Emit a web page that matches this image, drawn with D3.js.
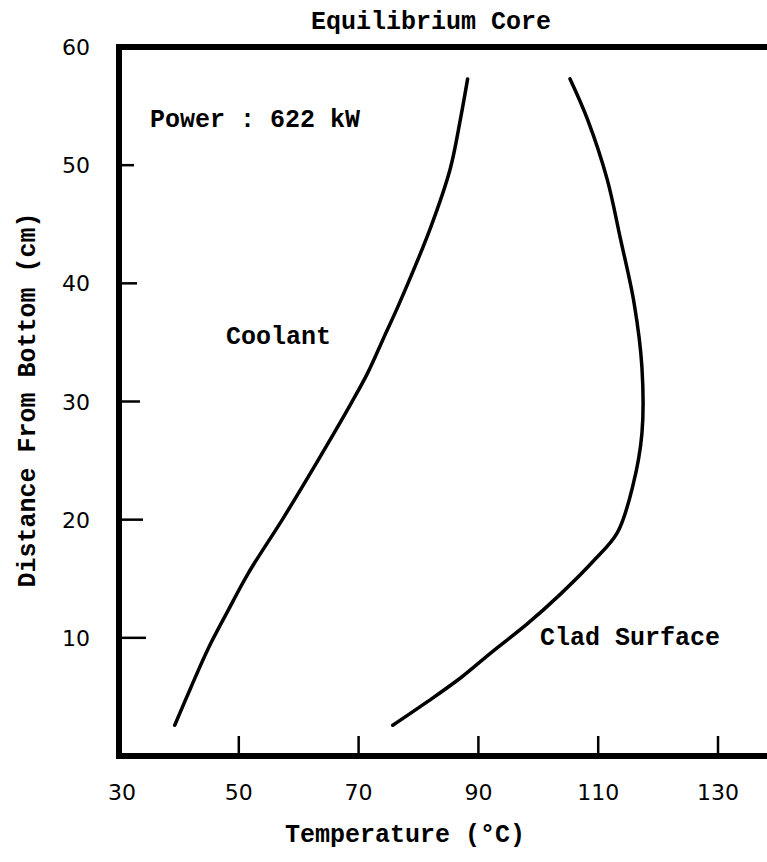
<!DOCTYPE html>
<html>
<head>
<meta charset="utf-8">
<script src="https://cdn.jsdelivr.net/npm/d3@7"></script>
<style>
  body { margin: 0; background: #fff; }
  svg text { fill: #000; }
  .mono { font-family: "Courier New", "Liberation Mono", monospace; font-size: 25px; font-weight: bold; }
  .tick { font-family: "DejaVu Sans", sans-serif; font-size: 22px; }
</style>
</head>
<body>
<svg id="chart" width="767" height="862"></svg>
<script>
// distance from bottom (cm) and temperature (C)
var coolantZ = [2.6, 5.8, 9.2, 12.3, 15.4, 20.2, 25, 29.8, 32.4, 35.4, 38.3, 44.7, 49.7, 53.9, 57.3];
var coolantT = [39.3, 42, 45, 48.2, 51.5, 57.5, 63.2, 68.7, 71.5, 74.2, 76.8, 82, 85.3, 87, 88.2];
var cladZ = [2.6, 4.6, 6.6, 8.9, 11.2, 13.7, 16.5, 18.9, 22.9, 27.3, 32.9, 38.3, 43.8, 48.8, 53.9, 57.3];
var cladT = [75.7, 81.5, 87, 92.5, 98.2, 103.7, 109.2, 113.2, 115.8, 117.3, 117.3, 116, 113.7, 111.5, 108.2, 105.3];
var xTicks = [30, 50, 70, 90, 110, 130];
var yTicks = [10, 20, 30, 40, 50, 60];

var svg = d3.select("#chart");
var x = d3.scaleLinear().domain([30, 130]).range([119, 718]);
var y = d3.scaleLinear().domain([0, 60]).range([756, 47]);

// frame: left, top, bottom (right side runs off the page)
svg.append("path")
  .attr("d", "M767," + y(60) + "H" + x(30) + "V" + y(0) + "H767")
  .attr("fill", "none").attr("stroke", "#000").attr("stroke-width", 6);

// ticks
svg.selectAll(".xt").data(xTicks.slice(1)).enter().append("line")
  .attr("x1", function(d){ return x(d); }).attr("x2", function(d){ return x(d); })
  .attr("y1", y(0)).attr("y2", y(0) - 20)
  .attr("stroke", "#000").attr("stroke-width", 2.5);
svg.selectAll(".yt").data(yTicks.slice(0, 5)).enter().append("line")
  .attr("x1", x(30)).attr("x2", function(d, i){ return x(30) + 27 - i * 3; })
  .attr("y1", function(d){ return y(d); }).attr("y2", function(d){ return y(d); })
  .attr("stroke", "#000").attr("stroke-width", 2.5);

// tick labels
svg.selectAll(".xl").data(xTicks).enter().append("text")
  .attr("class", "tick")
  .attr("x", function(d){ return x(d) + (d == 30 ? 3 : 0); })
  .attr("y", 800).attr("text-anchor", "middle")
  .text(function(d){ return d; });
svg.selectAll(".yl").data(yTicks).enter().append("text")
  .attr("class", "tick")
  .attr("x", 90).attr("y", function(d){ return y(d) + 8; })
  .attr("text-anchor", "end")
  .text(function(d){ return d; });

// curves
var line = d3.line()
  .x(function(d){ return x(d[1]); })
  .y(function(d){ return y(d[0]); })
  .curve(d3.curveCatmullRom);
var series = [d3.zip(coolantZ, coolantT), d3.zip(cladZ, cladT)];
svg.selectAll(".curve").data(series).enter().append("path")
  .attr("d", line)
  .attr("fill", "none").attr("stroke", "#000").attr("stroke-width", 3.5)
  .attr("stroke-linecap", "round");

// texts
svg.append("text").attr("class", "mono").attr("x", 431).attr("y", 29)
  .attr("text-anchor", "middle").text("Equilibrium Core");
svg.append("text").attr("class", "mono").attr("x", 150).attr("y", 127).text("Power : 622 kW");
svg.append("text").attr("class", "mono").attr("x", 226).attr("y", 344).text("Coolant");
svg.append("text").attr("class", "mono").attr("x", 540).attr("y", 645).text("Clad Surface");
svg.append("text").attr("class", "mono").attr("x", 405).attr("y", 842)
  .attr("text-anchor", "middle").text("Temperature (°C)");
svg.append("text").attr("class", "mono")
  .attr("transform", "translate(35,400) rotate(-90)")
  .attr("text-anchor", "middle").text("Distance From Bottom (cm)");
</script>
</body>
</html>
